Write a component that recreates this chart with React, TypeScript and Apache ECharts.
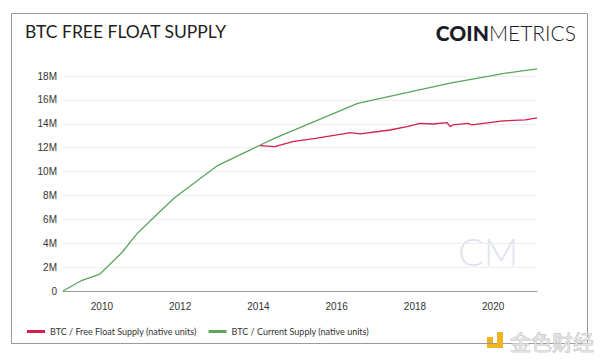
import React, { useEffect, useRef } from "react";
import * as echarts from "echarts";

const currentSupplyDates = [
  "2009-01-03", "2009-06-17", "2009-12-13", "2010-07-05", "2010-12-01",
  "2011-07-12", "2011-11-10", "2012-12-10", "2013-10-12", "2014-01-15",
  "2014-06-03", "2016-07-16", "2018-11-25", "2020-05-12", "2021-02-13",
];
const currentSupplyValues = [
  0, 0.84, 1.42, 3.2, 4.86,
  6.78, 7.8, 10.47, 11.8, 12.2,
  12.8, 15.7, 17.4, 18.26, 18.6,
];

const freeFloatDates = [
  "2014-01-15", "2014-06-03", "2014-11-17", "2015-07-01", "2016-03-01",
  "2016-05-05", "2016-08-08", "2017-05-12", "2017-10-20", "2018-02-17",
  "2018-06-17", "2018-10-27", "2018-11-25", "2018-12-20", "2019-05-12",
  "2019-06-17", "2020-04-01", "2020-10-27", "2021-02-13",
];
const freeFloatValues = [
  12.17, 12.09, 12.5, 12.79, 13.15,
  13.26, 13.15, 13.48, 13.76, 14.04,
  13.98, 14.1, 13.76, 13.9, 14.04,
  13.9, 14.24, 14.32, 14.5,
];

const xTickYears = [2010, 2012, 2014, 2016, 2018, 2020];
const xMinDate = "2009-01-03";
const xMaxDate = "2021-02-13";

const seriesNames = [
  "BTC / Free Float Supply (native units)",
  "BTC / Current Supply (native units)",
];

const ts = (s: string) => Date.parse(s + "T00:00:00Z");

export default function App() {
  const ref = useRef<HTMLDivElement>(null);
  useEffect(() => {
    if (!ref.current) return;
    const chart = echarts.init(ref.current, null, { renderer: "svg" });
    const toPairs = (d: string[], v: number[]) =>
      d.map((s, i) => [ts(s), v[i] * 1e6]);
    chart.setOption({
      animation: false,
      backgroundColor: "#ffffff",
      grid: { left: 63, right: 63, top: 76, bottom: 72 },
      legend: {
        left: 22,
        top: 322,
        itemWidth: 18,
        itemHeight: 3,
        itemGap: 12,
        icon: "rect",
        textStyle: { fontFamily: "Lato", fontSize: 9, color: "#333" },
        data: seriesNames,
      },
      xAxis: {
        type: "value",
        min: ts(xMinDate),
        max: ts(xMaxDate),
        axisLine: { lineStyle: { color: "#999", width: 1 } },
        axisTick: { show: false },
        splitLine: { show: false },
        axisLabel: {
          customValues: xTickYears.map((y) => ts(`${y}-01-01`)),
          formatter: (v: number) => String(new Date(v).getUTCFullYear()),
          fontFamily: "Liberation Sans",
          fontSize: 10,
          color: "#333",
          margin: 10,
        },
      },
      yAxis: {
        type: "value",
        min: 0,
        max: 18e6,
        interval: 2e6,
        axisLine: { show: false },
        axisTick: { show: false },
        splitLine: { lineStyle: { color: "#eeeeee", width: 1 } },
        axisLabel: {
          formatter: (v: number) => (v === 0 ? "0" : `${v / 1e6}M`),
          fontFamily: "Liberation Sans",
          fontSize: 10,
          color: "#333",
          margin: 6,
        },
      },
      series: [
        {
          name: seriesNames[0],
          type: "line",
          data: toPairs(freeFloatDates, freeFloatValues),
          showSymbol: false,
          clip: false,
          itemStyle: { color: "#d41f4c" },
          lineStyle: { color: "#d41f4c", width: 1.3 },
          z: 3,
        },
        {
          name: seriesNames[1],
          type: "line",
          data: toPairs(currentSupplyDates, currentSupplyValues),
          showSymbol: false,
          clip: false,
          itemStyle: { color: "#5aa65a" },
          lineStyle: { color: "#5aa65a", width: 1.3 },
          z: 2,
        },
      ],
      graphic: [
        {
          type: "rect",
          shape: { x: 11.5, y: 13.5, width: 576, height: 330 },
          style: { fill: "none", stroke: "#9a9a9a", lineWidth: 1 },
          z: 0,
        },
        {
          type: "text",
          x: 25,
          y: 31,
          style: {
            text: "BTC FREE FLOAT SUPPLY",
            fontFamily: "Lato",
            fontSize: 17.5,
            fill: "#1e1e24",
            verticalAlign: "middle",
          },
        },
        {
          type: "text",
          x: 576,
          y: 32,
          style: {
            text: "{b|COIN}{l|METRICS}",
            align: "right",
            verticalAlign: "middle",
            rich: {
              b: { fontFamily: "Lato", fontWeight: 900, fontSize: 21, fill: "#1c1c28" },
              l: { fontFamily: "Lato", fontWeight: 300, fontSize: 21, fill: "#1c1c28" },
            },
          },
        },
        {
          type: "text",
          x: 458,
          y: 251,
          style: {
            text: "CM",
            fontFamily: "Lato",
            fontWeight: 300,
            fontSize: 38,
            fill: "#dfe3ee",
            verticalAlign: "middle",
          },
          z: -1,
        },
        {
          type: "rect",
          shape: { x: 487, y: 337, width: 6, height: 6 },
          style: { fill: "#f0b323" },
        },
        {
          type: "polygon",
          shape: {
            points: [[497, 332], [503, 332], [503, 348], [487, 348], [487, 344], [497, 344]],
          },
          style: { fill: "#f0b323" },
        },
        {
          type: "text",
          x: 510,
          y: 341,
          style: {
            text: "金色财经",
            fontFamily: "Noto Sans CJK SC",
            fontSize: 21,
            fill: "#e2e2e2",
            stroke: "#a8a8a8",
            lineWidth: 0.6,
            verticalAlign: "middle",
          },
        },
      ],
    });
    return () => chart.dispose();
  }, []);
  return (
    <div
      ref={ref}
      style={{ position: "fixed", left: 0, top: 0, width: 600, height: 363 }}
    />
  );
}
